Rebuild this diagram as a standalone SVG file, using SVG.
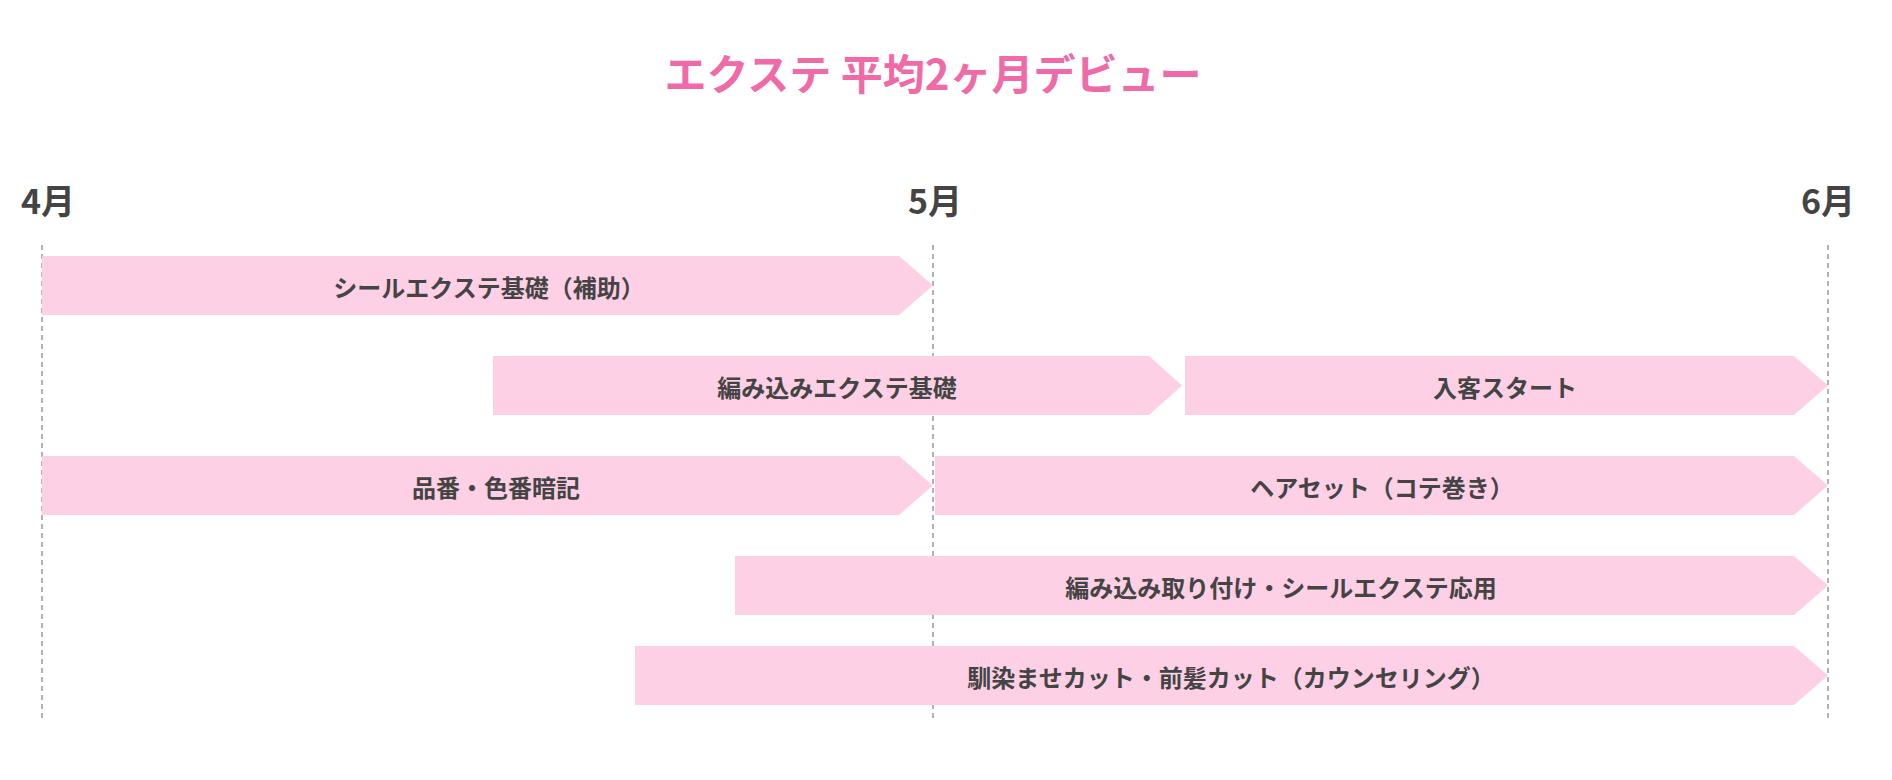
<svg xmlns="http://www.w3.org/2000/svg" width="1892" height="780" viewBox="0 0 1892 780">
<style>
.bar{fill:#fdd0e5}
.lbl{font-family:"Noto Sans CJK JP",sans-serif;font-weight:bold;font-size:24px;fill:#444;text-anchor:middle;dominant-baseline:central}
.mon{font-family:"Noto Sans CJK JP",sans-serif;font-weight:bold;font-size:34px;fill:#444;text-anchor:middle}
.grid{stroke:#999;stroke-width:1.5;stroke-dasharray:5,4}
</style>
<rect width="1892" height="780" fill="#fff"/>
<text x="933" y="90" font-family="'Noto Sans CJK JP',sans-serif" font-weight="bold" font-size="42" fill="#f06aa8" text-anchor="middle">エクステ 平均2ヶ月デビュー</text>
<g id="axis">
<text class="mon" x="48" y="214">4月</text>
<text class="mon" x="935" y="214">5月</text>
<text class="mon" x="1828" y="214">6月</text>
<line class="grid" x1="42" y1="245" x2="42" y2="722"/>
<line class="grid" x1="933" y1="245" x2="933" y2="722"/>
<line class="grid" x1="1828" y1="245" x2="1828" y2="722"/>
</g>
<g id="n1"><polygon class="bar" points="42,256 899,256 933,285.5 899,315 42,315"/><text class="lbl" x="489" y="286">シールエクステ基礎（補助）</text></g>
<g id="n2"><polygon class="bar" points="493,356 1149,356 1182,385.5 1149,415 493,415"/><text class="lbl" x="837" y="386">編み込みエクステ基礎</text></g>
<g id="n3"><polygon class="bar" points="1185,356 1794,356 1828,385.5 1794,415 1185,415"/><text class="lbl" x="1505" y="386">入客スタート</text></g>
<g id="n4"><polygon class="bar" points="42,456 899,456 933,485.5 899,515 42,515"/><text class="lbl" x="496" y="486">品番・色番暗記</text></g>
<g id="n5"><polygon class="bar" points="935,456 1794,456 1828,485.5 1794,515 935,515"/><text class="lbl" x="1382" y="486">ヘアセット（コテ巻き）</text></g>
<g id="n6"><polygon class="bar" points="735,556 1794,556 1828,585.5 1794,615 735,615"/><text class="lbl" x="1281" y="586">編み込み取り付け・シールエクステ応用</text></g>
<g id="n7"><polygon class="bar" points="635,646 1794,646 1828,675.5 1794,705 635,705"/><text class="lbl" x="1231" y="676">馴染ませカット・前髪カット（カウンセリング）</text></g>
<g id="connectors"></g>
</svg>
